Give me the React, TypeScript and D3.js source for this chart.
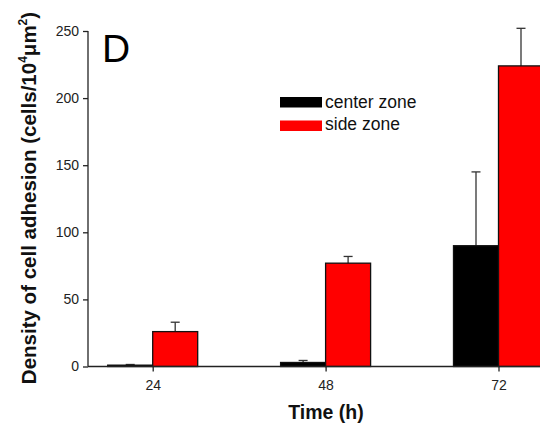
import React, { useRef, useEffect } from 'react';
import * as d3 from 'd3';

const times = [24, 48, 72];
const centerZone = [1, 3, 90];
const centerErr = [0.5, 1.5, 55];
const sideZone = [26, 77, 224];
const sideErr = [7, 5, 28];
const yTicks = [0, 50, 100, 150, 200, 250];

const W = 540;
const H = 432;

export default function App() {
  const svgRef = useRef<SVGSVGElement>(null);

  useEffect(() => {
    const svg = d3.select(svgRef.current);
    svg.selectAll('*').remove();

    const x = d3.scaleLinear().domain([24, 72]).range([152.7, 498.5]);
    const y = d3.scaleLinear().domain([0, 250]).range([366.5, 31]);
    const bw = 45;
    const font = 'Arial, "Liberation Sans", sans-serif';

    svg.append('rect').attr('width', W).attr('height', H).attr('fill', '#fff');

    // bars
    const series = [
      { vals: centerZone, errs: centerErr, color: '#000', off: -bw },
      { vals: sideZone, errs: sideErr, color: '#ff0000', off: 0 },
    ];
    series.forEach((s) => {
      const g = svg.append('g');
      // error bars (upper half only, like the original)
      g.selectAll('line.err')
        .data(times)
        .enter()
        .append('line')
        .attr('x1', (d) => x(d) + s.off + bw / 2)
        .attr('x2', (d) => x(d) + s.off + bw / 2)
        .attr('y1', (d, i) => y(s.vals[i]))
        .attr('y2', (d, i) => y(s.vals[i] + s.errs[i]))
        .attr('stroke', '#333')
        .attr('stroke-width', 1.3);
      g.selectAll('line.cap')
        .data(times)
        .enter()
        .append('line')
        .attr('x1', (d) => x(d) + s.off + bw / 2 - 4.5)
        .attr('x2', (d) => x(d) + s.off + bw / 2 + 4.5)
        .attr('y1', (d, i) => y(s.vals[i] + s.errs[i]))
        .attr('y2', (d, i) => y(s.vals[i] + s.errs[i]))
        .attr('stroke', '#333')
        .attr('stroke-width', 1.3);
      g.selectAll('rect')
        .data(times)
        .enter()
        .append('rect')
        .attr('x', (d) => x(d) + s.off)
        .attr('width', bw)
        .attr('y', (d, i) => y(s.vals[i]))
        .attr('height', (d, i) => y(0) - y(s.vals[i]))
        .attr('fill', s.color)
        .attr('stroke', '#111')
        .attr('stroke-width', 1.3);
    });

    // y axis
    const ya = svg.append('g').attr('transform', 'translate(88,0)');
    ya.call(d3.axisLeft(y).tickValues(yTicks).tickSize(5).tickPadding(4));
    ya.select('.domain').attr('stroke', '#222').attr('stroke-width', 1.3).attr('d', `M0,${y(250)}V${y(0)}`);
    ya.selectAll('.tick line').attr('stroke', '#222').attr('stroke-width', 1.3);
    ya.selectAll('.tick text').attr('font-family', font).attr('font-size', 14).attr('fill', '#222');

    // x axis
    const xa = svg.append('g').attr('transform', `translate(0,${y(0)})`);
    xa.call(d3.axisBottom(x).tickValues(times).tickSize(5).tickPadding(9));
    xa.select('.domain').attr('stroke', '#222').attr('stroke-width', 1.3).attr('d', `M88,0H${W}`);
    xa.selectAll('.tick line').attr('stroke', '#222').attr('stroke-width', 1.3);
    xa.selectAll('.tick text').attr('font-family', font).attr('font-size', 14).attr('fill', '#222');

    // x label
    svg.append('text')
      .attr('x', 326)
      .attr('y', 419)
      .attr('text-anchor', 'middle')
      .attr('font-family', font)
      .attr('font-weight', 'bold')
      .attr('font-size', 19.5)
      .attr('fill', '#111')
      .text('Time (h)');

    // y label
    const yl = svg.append('text')
      .attr('transform', 'translate(36,198) rotate(-90)')
      .attr('text-anchor', 'middle')
      .attr('font-family', font)
      .attr('font-weight', 'bold')
      .attr('font-size', 20.5)
      .attr('fill', '#111');
    yl.append('tspan').text('Density of cell adhesion (cells/10');
    yl.append('tspan').attr('font-size', 12).attr('dy', -9).text('4');
    yl.append('tspan').attr('dy', 9).text('\u03bcm');
    yl.append('tspan').attr('font-size', 12).attr('dy', -9).text('2');
    yl.append('tspan').attr('dy', 9).text(')');

    // panel letter
    svg.append('text')
      .attr('x', 102)
      .attr('y', 62)
      .attr('font-family', font)
      .attr('font-size', 39)
      .attr('fill', '#000')
      .text('D');

    // legend
    const legend = [
      { name: 'center zone', color: '#000' },
      { name: 'side zone', color: '#ff0000' },
    ];
    const lg = svg.append('g');
    legend.forEach((l, i) => {
      lg.append('rect')
        .attr('x', 280)
        .attr('y', 97 + i * 23.5)
        .attr('width', 42)
        .attr('height', 10.5)
        .attr('fill', l.color);
      lg.append('text')
        .attr('x', 325)
        .attr('y', 107.5 + i * 22.5)
        .attr('font-family', font)
        .attr('font-size', 17.5)
        .attr('fill', '#111')
        .text(l.name);
    });
  }, []);

  return (
    <div style={{ position: 'absolute', left: 0, top: 0 }}>
      <svg ref={svgRef} width={W} height={H} style={{ display: 'block' }} />
    </div>
  );
}
